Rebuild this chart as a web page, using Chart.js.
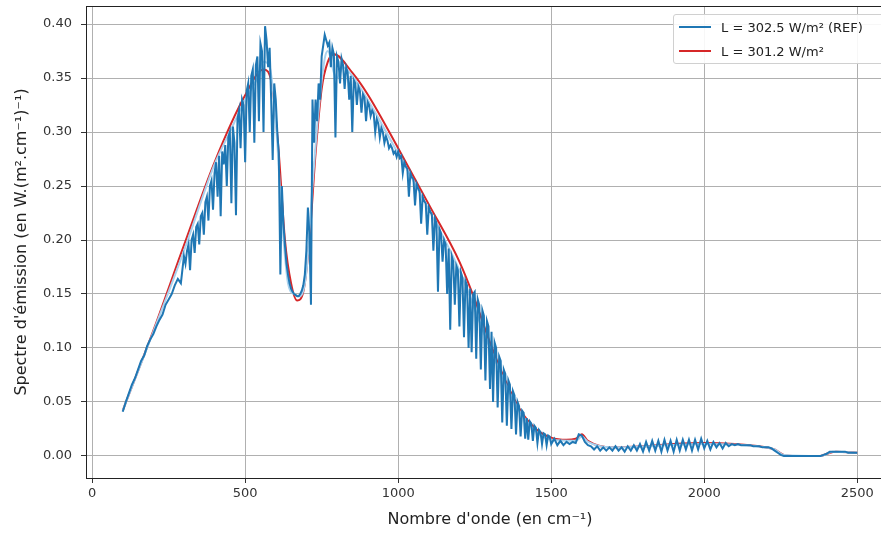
<!DOCTYPE html>
<html>
<head>
<meta charset="utf-8">
<script src="https://cdn.jsdelivr.net/npm/chart.js@4.4.1/dist/chart.umd.min.js"></script>
<style>
  html, body { margin: 0; padding: 0; background: #fff; overflow: hidden; }
  #wrap { position: relative; width: 900px; height: 533px; }
  #legend {
    position: absolute; left: 673px; top: 14px; width: 215px;
    border: 1px solid #d0d0d0; border-radius: 3px; background: rgba(255,255,255,0.9);
    font-family: "DejaVu Sans", sans-serif; font-size: 13px; color: #222; padding: 0;
  }
  #legend .row { display: flex; align-items: center; height: 24px; }
  #legend .swatch { width: 32px; height: 2px; margin: 0 10px 0 5px; }
</style>
</head>
<body>
<div id="wrap">
  <canvas id="chart" width="900" height="533"></canvas>
  <div id="legend"></div>
</div>
<script>
// reference spectrum
// 100-290 cm-1, 10 cm-1 step
const refLowX = [100, 110, 120, 130, 140, 150, 160, 170, 180, 190, 200, 210, 220, 230, 240, 250, 260, 270, 280, 290];
const refLowY = [0.041, 0.050, 0.058, 0.066, 0.072, 0.080, 0.088, 0.093, 0.102, 0.108,
                 0.113, 0.120, 0.126, 0.131, 0.140, 0.145, 0.150, 0.158, 0.164, 0.160];

// 300-1500 cm-1, 5 cm-1 step (the dense part)
const refMidStart = 300, refMidStep = 5;
const refMidY = [
  0.185, 0.178, 0.190, 0.196, 0.172, 0.200, 0.205, 0.188, 0.212, 0.215,
  0.196, 0.222, 0.225, 0.205, 0.235, 0.240, 0.218, 0.250, 0.255, 0.228,
  0.262, 0.272, 0.240, 0.278, 0.222, 0.282, 0.270, 0.288, 0.250, 0.295,
  0.300, 0.234, 0.305, 0.290, 0.223, 0.312, 0.320, 0.285, 0.330, 0.325,
  0.272, 0.338, 0.345, 0.300, 0.352, 0.358, 0.290, 0.362, 0.370, 0.310,
  0.382, 0.375, 0.300, 0.398, 0.385, 0.360, 0.378, 0.330, 0.274, 0.345,
  0.330, 0.300, 0.280, 0.168, 0.250, 0.215, 0.195, 0.178, 0.168, 0.160,
  0.155, 0.152, 0.150, 0.149, 0.148, 0.148, 0.150, 0.153, 0.158, 0.168,
  0.190, 0.230, 0.205, 0.140, 0.330, 0.290, 0.330, 0.310, 0.345, 0.330,
  0.370, 0.380, 0.390, 0.385, 0.380, 0.383, 0.360, 0.378, 0.372, 0.295,
  0.370, 0.365, 0.345, 0.368, 0.362, 0.340, 0.360, 0.355, 0.330, 0.352,
  0.300, 0.348, 0.345, 0.325, 0.342, 0.338, 0.318, 0.335, 0.332, 0.310,
  0.328, 0.325, 0.315, 0.320, 0.317, 0.300, 0.312, 0.308, 0.295, 0.304,
  0.300, 0.290, 0.296, 0.292, 0.285, 0.288, 0.285, 0.280, 0.282, 0.277,
  0.282, 0.276, 0.278, 0.262, 0.272, 0.268, 0.266, 0.240, 0.262, 0.258,
  0.256, 0.232, 0.252, 0.248, 0.245, 0.215, 0.240, 0.236, 0.234, 0.205,
  0.230, 0.226, 0.224, 0.190, 0.220, 0.216, 0.152, 0.210, 0.206, 0.180,
  0.200, 0.196, 0.150, 0.192, 0.117, 0.185, 0.180, 0.140, 0.176, 0.172,
  0.120, 0.170, 0.165, 0.110, 0.162, 0.158, 0.100, 0.155, 0.096, 0.150,
  0.152, 0.090, 0.145, 0.140, 0.080, 0.135, 0.130, 0.070, 0.125, 0.120,
  0.062, 0.115, 0.050, 0.105, 0.100, 0.045, 0.092, 0.088, 0.031, 0.080,
  0.076, 0.028, 0.070, 0.066, 0.025, 0.060, 0.056, 0.020, 0.050, 0.046,
  0.018, 0.042, 0.040, 0.016, 0.035, 0.015, 0.032, 0.030, 0.014, 0.028,
  0.026, 0.012, 0.024, 0.022, 0.011, 0.021, 0.020, 0.010, 0.019, 0.018,
  0.011
];

// 1510-2500 cm-1, 10 cm-1 step
const refHighStart = 1510, refHighStep = 10;
const refHighY = [
  0.016, 0.010, 0.014, 0.010, 0.013, 0.011, 0.013, 0.012, 0.020,
  0.019, 0.013, 0.010, 0.009, 0.006, 0.009, 0.005, 0.008, 0.005, 0.008,
  0.005, 0.009, 0.005, 0.008, 0.004, 0.009, 0.005, 0.010, 0.005, 0.011,
  0.004, 0.013, 0.005, 0.014, 0.005, 0.014, 0.004, 0.015, 0.005, 0.014,
  0.004, 0.015, 0.005, 0.015, 0.006, 0.015, 0.005, 0.015, 0.006, 0.016,
  0.007, 0.014, 0.006, 0.013, 0.008, 0.012, 0.007, 0.012, 0.009, 0.011,
  0.010, 0.011, 0.010, 0.010, 0.010, 0.010, 0.009, 0.009, 0.009, 0.008,
  0.008, 0.008, 0.007, 0.005, 0.003, 0.001, 0.000, 0.000, 0.000, 0.000,
  0.000, 0.000, 0.000, 0.000, 0.000, 0.000, 0.000, 0.000, 0.000, 0.001,
  0.002, 0.004, 0.004, 0.004, 0.004, 0.004, 0.004, 0.003, 0.003, 0.003,
  0.003
];

// smoothed reference (pale line under the red one)
const smoothWavenumbers = [100, 200, 300, 400, 450, 500, 540, 560, 580, 600, 620, 640, 660, 680, 700, 720, 740, 760, 770, 790, 800, 820, 850, 900, 1000, 1100, 1200, 1300, 1400, 1500, 1580, 1600, 1620, 1700, 2000, 2200, 2230, 2260, 2380, 2420, 2500];
const smoothSpectrum    = [0.042, 0.115, 0.190, 0.270, 0.300, 0.330, 0.350, 0.365, 0.360, 0.310, 0.220, 0.160, 0.150, 0.148, 0.170, 0.250, 0.320, 0.368, 0.375, 0.355, 0.350, 0.360, 0.352, 0.330, 0.280, 0.228, 0.172, 0.100, 0.040, 0.015, 0.014, 0.018, 0.013, 0.008, 0.011, 0.008, 0.006, 0.001, 0.000, 0.004, 0.003];

// model spectrum (red)
const modelWavenumbers = [100, 200, 300, 400, 500, 560, 590, 610, 630, 650, 670, 690, 710, 730, 750, 770, 790, 850, 900, 1000, 1100, 1200, 1250, 1300, 1350, 1400, 1450, 1500, 1550, 1580, 1600, 1620, 1700, 1800, 1900, 2000, 2100, 2200, 2230, 2260, 2300, 2380, 2400, 2430, 2500];
const modelSpectrum    = [0.042, 0.116, 0.195, 0.272, 0.334, 0.358, 0.340, 0.280, 0.200, 0.160, 0.144, 0.152, 0.200, 0.280, 0.340, 0.365, 0.372, 0.355, 0.335, 0.285, 0.233, 0.180, 0.145, 0.105, 0.070, 0.042, 0.025, 0.017, 0.015, 0.016, 0.020, 0.014, 0.008, 0.009, 0.011, 0.012, 0.011, 0.008, 0.006, 0.001, 0.000, 0.000, 0.002, 0.004, 0.003];

const seriesLabels = ['L = 302.5 W/m² (REF)', 'L = 301.2 W/m²'];
const xTicks = [0, 500, 1000, 1500, 2000, 2500];
const yTicks = [0, 0.05, 0.10, 0.15, 0.20, 0.25, 0.30, 0.35, 0.40];

const toPoints = (xs, ys) => xs.map((x, i) => ({ x: x, y: ys[i] }));

const refPoints = toPoints(refLowX, refLowY)
    .concat(refMidY.map((y, i) => ({ x: refMidStart + i * refMidStep, y: y })))
    .concat(refHighY.map((y, i) => ({ x: refHighStart + i * refHighStep, y: y })));

const font = { family: 'DejaVu Sans', size: 13 };

// frame around the plot area, like a matplotlib axes box
const framePlugin = {
    id: 'frame',
    afterDraw(chart) {
        const a = chart.chartArea;
        const ctx = chart.ctx;
        ctx.save();
        ctx.strokeStyle = '#222';
        ctx.lineWidth = 1;
        ctx.strokeRect(a.left + 0.5, a.top + 0.5, a.right - a.left, a.bottom - a.top);
        ctx.restore();
    }
};

const ctx = document.getElementById('chart').getContext('2d');
const chart = new Chart(ctx, {
    type: 'line',
    data: {
        datasets: [{
            label: seriesLabels[0],
            data: refPoints,
            borderColor: '#1f77b4',
            borderWidth: 2,
            pointRadius: 0,
            tension: 0
        }, {
            label: 'smooth',
            data: toPoints(smoothWavenumbers, smoothSpectrum),
            borderColor: '#a9d2ee',
            borderWidth: 2,
            pointRadius: 0,
            cubicInterpolationMode: 'monotone'
        }, {
            label: seriesLabels[1],
            data: toPoints(modelWavenumbers, modelSpectrum),
            borderColor: '#d62728',
            borderWidth: 2,
            pointRadius: 0,
            cubicInterpolationMode: 'monotone'
        }]
    },
    options: {
        responsive: false,
        animation: false,
        layout: { padding: { top: 6, right: 6, left: 0, bottom: 0 } },
        plugins: { legend: { display: false }, tooltip: { enabled: false } },
        scales: {
            x: {
                type: 'linear',
                min: -20,
                max: 2620,
                afterBuildTicks: (s) => { s.ticks = xTicks.map(v => ({ value: v })); },
                afterFit: (s) => { s.height = 55; s.paddingLeft = 0; s.paddingRight = 0; },
                grid: { color: '#b0b0b0', lineWidth: 1, tickLength: 5, tickColor: '#333' },
                border: { display: false },
                ticks: { color: '#333', font: font, padding: 3, maxRotation: 0, callback: v => String(v) },
                title: { display: true, text: "Nombre d'onde (en cm⁻¹)", color: '#222', font: { family: 'DejaVu Sans', size: 16 }, padding: { top: 4 } }
            },
            y: {
                min: -0.0204,
                max: 0.4167,
                afterBuildTicks: (s) => { s.ticks = yTicks.map(v => ({ value: v })); },
                afterFit: (s) => { s.width = 86; s.paddingTop = 0; s.paddingBottom = 0; },
                grid: { color: '#b0b0b0', lineWidth: 1, tickLength: 5, tickColor: '#333' },
                border: { display: false },
                ticks: { color: '#333', font: font, padding: 9, callback: v => v.toFixed(2) },
                title: { display: true, text: "Spectre d'émission (en W.(m².cm⁻¹)⁻¹)", color: '#222', font: { family: 'DejaVu Sans', size: 16 }, padding: { top: 12, bottom: 2 } }
            }
        }
    },
    plugins: [framePlugin]
});

// legend as html text, built from the datasets
const legend = document.getElementById('legend');
[0, 2].forEach(i => {
    const ds = chart.data.datasets[i];
    const row = document.createElement('div');
    row.className = 'row';
    row.innerHTML = '<span class="swatch" style="background:' + ds.borderColor + '"></span><span>' + ds.label + '</span>';
    legend.appendChild(row);
});
</script>
</body>
</html>
